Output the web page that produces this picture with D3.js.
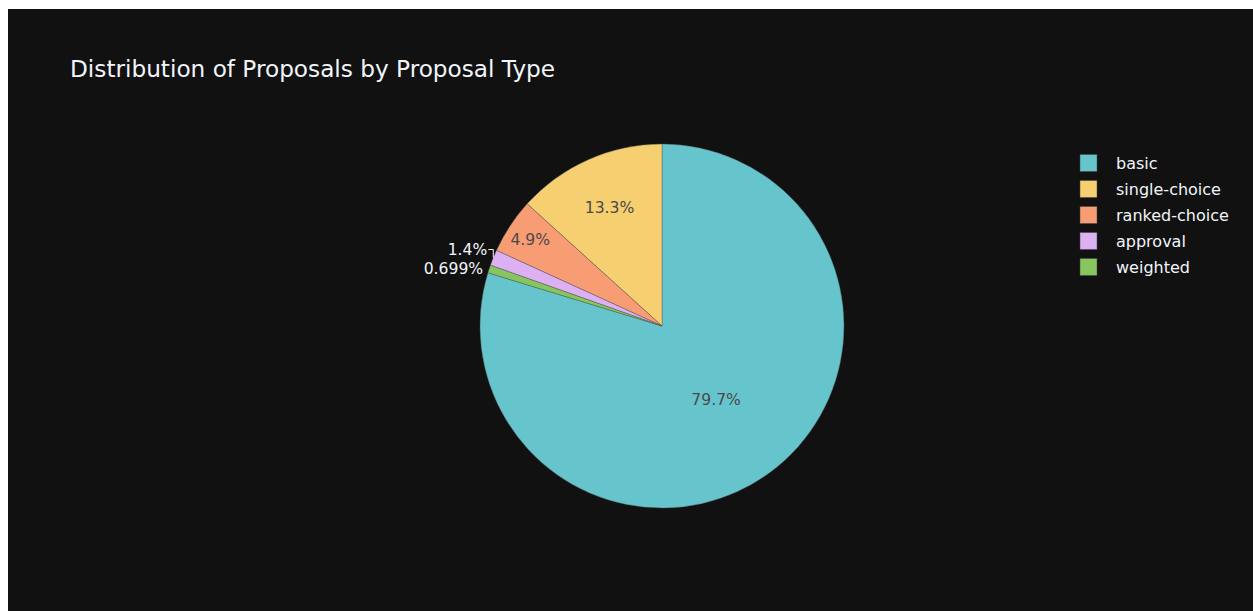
<!DOCTYPE html>
<html>
<head>
<meta charset="utf-8">
<script src="https://cdn.jsdelivr.net/npm/d3@7"></script>
<style>
  body { margin: 0; background: #ffffff; }
  text { font-family: "DejaVu Sans", Verdana, sans-serif; }
</style>
</head>
<body>
<div id="chart"></div>
<script>
// proposal types, legend order
const labels = ["basic", "single-choice", "ranked-choice", "approval", "weighted"];
const counts = [114, 19, 7, 2, 1];
const colors = ["#66c5cc", "#f6cf71", "#f89c74", "#dcb0f2", "#87c55f"];
// clockwise from 12 o'clock
const drawOrder = ["basic", "weighted", "approval", "ranked-choice", "single-choice"];

const width = 1253;
const height = 611;
const cx = 662, cy = 326, radius = 182;
const fg = "#f2f5fa";

const svg = d3.select("#chart").append("svg")
  .attr("width", width)
  .attr("height", height);

svg.append("rect")
  .attr("x", 8).attr("y", 9)
  .attr("width", width - 8).attr("height", height - 9)
  .attr("fill", "#111111");

svg.append("text")
  .attr("x", 70).attr("y", 77)
  .attr("fill", fg)
  .style("font-size", "23.2px")
  .text("Distribution of Proposals by Proposal Type");

const data = labels.map((l, i) => ({ label: l, value: counts[i], color: colors[i] }));
const total = d3.sum(counts);
const fmt = d3.format(".3~r");

const pie = d3.pie()
  .value((d) => d.value)
  .sort((a, b) => drawOrder.indexOf(a.label) - drawOrder.indexOf(b.label));
const arcs = pie(data);

const arc = d3.arc().innerRadius(0).outerRadius(radius);

const g = svg.append("g").attr("transform", `translate(${cx},${cy})`);

g.selectAll("path")
  .data(arcs)
  .enter()
  .append("path")
  .attr("d", arc)
  .attr("fill", (d) => d.data.color)
  .attr("stroke", "#555")
  .attr("stroke-width", 0.4);

// labels: inside if text fits the inscribed circle of the wedge, otherwise outside
const outside = [];
arcs.forEach((a) => {
  const txt = fmt((a.value / total) * 100) + "%";
  const mid = (a.startAngle + a.endAngle) / 2;
  const half = Math.min((a.endAngle - a.startAngle) / 2, Math.PI / 2);
  const rIns = Math.min(1 / (1 + 1 / Math.sin(half)), 0.5);

  const t = g.append("text")
    .style("font-size", "15.6px")
    .attr("text-anchor", "middle")
    .text(txt);
  const bb = t.node().getBBox();
  const halfDiag = Math.sqrt(bb.width * bb.width + bb.height * bb.height) / 2;

  if (halfDiag <= rIns * radius) {
    const rc = (1 - rIns) * radius;
    t.attr("x", Math.sin(mid) * rc)
      .attr("y", -Math.cos(mid) * rc)
      .attr("dy", "0.35em")
      .attr("fill", "#4a4a4a");
  } else {
    const ex = Math.sin(mid) * radius;
    const ey = -Math.cos(mid) * radius;
    outside.push({ t: t, ex: ex, ey: ey, y: ey, left: ex < 0 });
  }
});

// push colliding outside labels away from the equator
const spacing = 19.5;
outside.sort((a, b) => b.ey - a.ey);
for (let i = 1; i < outside.length; i++) {
  if (outside[i].ey < 0) {
    outside[i].y = Math.min(outside[i].ey, outside[i - 1].y - spacing);
  }
}

outside.forEach((o) => {
  const gap = 6;
  const tx = o.left ? o.ex - gap : o.ex + gap;
  o.t.attr("x", tx)
    .attr("y", o.y)
    .attr("dy", "0.35em")
    .attr("text-anchor", o.left ? "end" : "start")
    .attr("fill", fg);
  if (Math.abs(o.y - o.ey) > 1) {
    g.append("path")
      .attr("d", `M${o.left ? tx + 1 : tx - 1},${o.y}H${o.ex}V${o.ey}`)
      .attr("fill", "none")
      .attr("stroke", fg)
      .attr("stroke-width", 1);
  }
});

// legend
const legend = svg.append("g").attr("transform", "translate(1080,163)");
const item = legend.selectAll("g")
  .data(data)
  .enter()
  .append("g")
  .attr("transform", (d, i) => `translate(0,${i * 26})`);

item.append("rect")
  .attr("x", 0).attr("y", -8.5)
  .attr("width", 17).attr("height", 17)
  .attr("fill", (d) => d.color)
  .attr("stroke", "#444")
  .attr("stroke-width", 0.5);

item.append("text")
  .attr("x", 36).attr("y", 0)
  .attr("dy", "0.35em")
  .attr("fill", fg)
  .style("font-size", "16px")
  .text((d) => d.label);
</script>
</body>
</html>
